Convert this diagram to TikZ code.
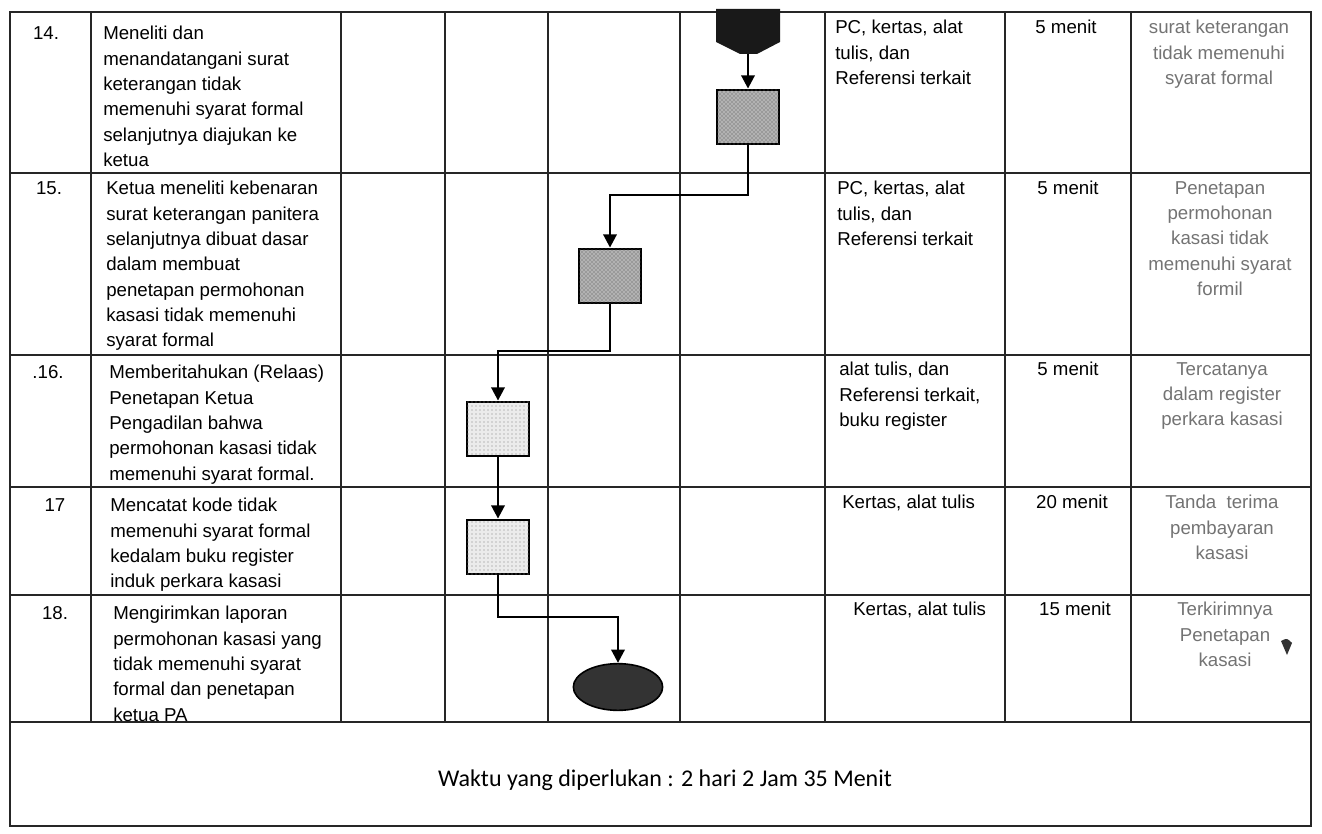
\documentclass[tikz,border=0pt]{standalone}
\usepackage{fontspec}
\setmainfont{Liberation Sans}
\newfontfamily\footfont{Carlito}
\usetikzlibrary{arrows.meta, shapes.geometric, calc, patterns}
\newcommand{\tabfont}{\fontsize{14}{19}\selectfont}

\tikzset{
    grid line/.style={black!85, line width=0.9pt},
    cell/.style={anchor=north west, align=left, inner sep=0pt, font=\tabfont},
    cellc/.style={anchor=north, align=center, inner sep=0pt, font=\tabfont},
    hasil/.style={cellc, text=black!55},
    proses/.style={draw=black, line width=1.6pt, minimum width=47pt, minimum height=41pt, inner sep=0pt},
    flow/.style={line width=2pt, -{Triangle[length=10pt,width=10pt]}},
}

\begin{document}
\begin{tikzpicture}[x=0.75pt, y=-0.75pt]
    \useasboundingbox (0,0) rectangle (1322,834);

    % Table frame
    \draw[grid line] (10,12) rectangle (1311,826);
    \foreach \cx in {91,341,445,548,680,825,1005,1131} {
        \draw[grid line] (\cx,12) -- (\cx,722);
    }
    \foreach \ry in {173,355,487,595,722} {
        \draw[grid line] (10,\ry) -- (1311,\ry);
    }

    % Row numbers
    \node[cellc] (n14) at (46,26)  {14.};
    \node[cellc] (n15) at (49,181) {15.};
    \node[cellc] (n16) at (48,365) {.16.};
    \node[cellc] (n17) at (55,498) {17};
    \node[cellc] (n18) at (55,606) {18.};

    % Activities
    \node[cell] (k14) at (103,26) {Meneliti dan\\menandatangani surat\\keterangan tidak\\memenuhi syarat formal\\selanjutnya diajukan ke\\ketua};
    \node[cell] (k15) at (106,181) {Ketua meneliti kebenaran\\surat keterangan panitera\\selanjutnya dibuat dasar\\dalam membuat\\penetapan permohonan\\kasasi tidak memenuhi\\syarat formal};
    \node[cell] (k16) at (109,365) {Memberitahukan (Relaas)\\Penetapan Ketua\\Pengadilan bahwa\\permohonan kasasi tidak\\memenuhi syarat formal.};
    \node[cell] (k17) at (110,498) {Mencatat kode tidak\\memenuhi syarat formal\\kedalam buku register\\induk perkara kasasi};
    \node[cell] (k18) at (113,606) {Mengirimkan laporan\\permohonan kasasi yang\\tidak memenuhi syarat\\formal dan penetapan\\ketua PA};

    % Resources
    \node[cell] (r14) at (835,20)  {PC, kertas, alat\\tulis, dan\\Referensi terkait};
    \node[cell] (r15) at (837,181) {PC, kertas, alat\\tulis, dan\\Referensi terkait};
    \node[cell] (r16) at (839,362) {alat tulis, dan\\Referensi terkait,\\buku register};
    \node[cell] (r17) at (842,495) {Kertas, alat tulis};
    \node[cell] (r18) at (853,602) {Kertas, alat tulis};

    % Time
    \node[cellc] (t14) at (1066,20)  {5 menit};
    \node[cellc] (t15) at (1068,181) {5 menit};
    \node[cellc] (t16) at (1068,362) {5 menit};
    \node[cellc] (t17) at (1072,495) {20 menit};
    \node[cellc] (t18) at (1075,602) {15 menit};

    % Output
    \node[hasil] (o14) at (1219,20)  {surat keterangan\\tidak memenuhi\\syarat formal};
    \node[hasil] (o15) at (1220,181) {Penetapan\\permohonan\\kasasi tidak\\memenuhi syarat\\formil};
    \node[hasil] (o16) at (1222,362) {Tercatanya\\dalam register\\perkara kasasi};
    \node[hasil] (o17) at (1222,495) {Tanda\ \ terima\\pembayaran\\kasasi};
    \node[hasil] (o18) at (1225,602) {Terkirimnya\\Penetapan\\kasasi};
    \fill[black!80] (1281,641) .. controls (1287,638) .. (1292,643) -- (1287,655) -- cycle;

    % Flow symbols
    \fill[black!90] (716,9) -- (780,9) -- (780,42) -- (757,54) -- (740,54) -- (716,42) -- cycle;
    \coordinate (start) at (748,54);
    \node[proses, fill=black!30, postaction={pattern=crosshatch dots, pattern color=black!70}] (b1) at (748,117) {};
    \node[proses, fill=black!30, postaction={pattern=crosshatch dots, pattern color=black!70}] (b2) at (610,276) {};
    \node[proses, fill=black!8, postaction={pattern=dots, pattern color=black!50}] (b3) at (498,429) {};
    \node[proses, fill=black!8, postaction={pattern=dots, pattern color=black!50}] (b4) at (498,547) {};
    \node[ellipse, draw=black, line width=1.2pt, fill=black!80, minimum width=67pt, minimum height=35pt, inner sep=0pt] (end) at (618,687) {};

    % Connectors
    \coordinate (e1) at (0,195);
    \coordinate (e2) at (0,351);
    \coordinate (e3) at (0,617);
    \draw[flow] (start) -- (b1.north);
    \draw[flow] (b1.south) -- (b1.south |- e1) -| (b2.north);
    \draw[flow] (b2.south) -- (b2.south |- e2) -| (b3.north);
    \draw[flow] (b3.south) -- (b4.north);
    \draw[flow] (b4.south) -- (b4.south |- e3) -| (end.north);

    % Total time
    \node[font=\footfont\fontsize{18}{22}\selectfont] (total) at (665,780) {Waktu yang diperlukan : 2 hari 2 Jam 35 Menit};
\end{tikzpicture}
\end{document}
